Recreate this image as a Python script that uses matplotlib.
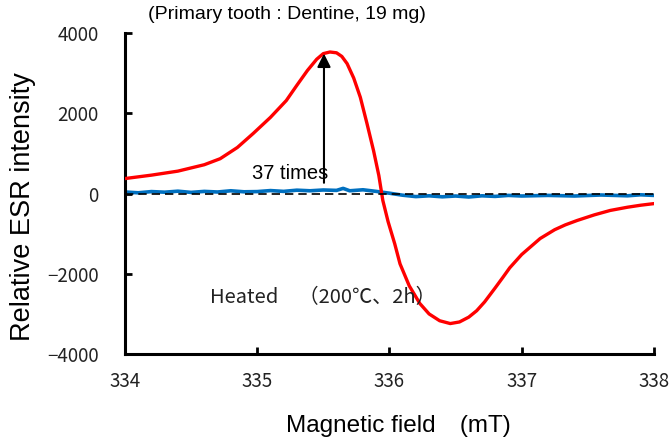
import numpy as np
import matplotlib.pyplot as plt

# ESR spectrum
field_red = [334.0, 334.2, 334.4, 334.6, 334.72, 334.85, 334.97, 335.1, 335.22, 335.3,
             335.38, 335.45, 335.5, 335.55, 335.6, 335.64, 335.68, 335.73, 335.78,
             335.83, 335.88, 335.92, 335.95, 335.99, 336.04, 336.08, 336.15, 336.23,
             336.3, 336.38, 336.46, 336.53, 336.6, 336.66, 336.72, 336.8, 336.86,
             336.91, 337.0, 337.07, 337.14, 337.25, 337.33, 337.42, 337.55, 337.67,
             337.8, 337.9, 338.0]
inten_red = [375, 460, 560, 720, 870, 1150, 1500, 1900, 2320, 2700, 3070, 3350, 3490,
             3530, 3510, 3420, 3240, 2880, 2400, 1750, 1070, 450, -170, -700, -1250,
             -1750, -2300, -2740, -3000, -3170, -3240, -3200, -3080, -2920, -2700,
             -2350, -2080, -1850, -1520, -1320, -1120, -900, -780, -670, -530, -420,
             -340, -290, -250]

field_blue = [334.0, 334.1, 334.2, 334.3, 334.4, 334.5, 334.6, 334.7, 334.8, 334.9,
              335.0, 335.1, 335.2, 335.3, 335.4, 335.5, 335.6, 335.65, 335.7, 335.8,
              335.9, 336.0, 336.1, 336.2, 336.3, 336.4, 336.5, 336.6, 336.7, 336.8,
              336.9, 337.0, 337.2, 337.4, 337.6, 337.8, 337.9, 338.0]
inten_blue = [40, 20, 50, 35, 60, 30, 55, 40, 70, 45, 50, 75, 55, 85, 70, 90, 80, 130,
              70, 95, 55, 10, -40, -75, -55, -80, -60, -85, -55, -70, -45, -60, -45,
              -60, -35, -55, -30, -45]

xticks = [334, 335, 336, 337, 338]
yticks = [-4000, -2000, 0, 2000, 4000]

fig = plt.figure(figsize=(6.72, 4.42), dpi=100)
ax = fig.add_axes([0.186, 0.199, 0.787, 0.726])

ax.plot(field_red, inten_red, color="#FF0000", lw=2.4, zorder=3)
ax.plot(field_blue, inten_blue, color="#0070C0", lw=2.6, zorder=2)
ax.axhline(0, color="black", lw=1.2, ls=(0, (5, 3)), zorder=4)

ax.annotate("", xy=(335.505, 3560), xytext=(335.505, 200),
            arrowprops=dict(arrowstyle="-|>", color="black", lw=1.5,
                            mutation_scale=20), zorder=5)
ax.text(335.25, 500, "37 times", fontsize=14.5, family="Liberation Sans",
        ha="center", va="center", zorder=6)
ax.text(334.64, -2600, "Heated\u3000\uff08200\u2103\u30012h\uff09", fontsize=14.5,
        family=["Noto Sans CJK JP", "DejaVu Sans"], color="#222222",
        ha="left", va="center", zorder=6)
fig.text(0.22, 0.968, "(Primary tooth : Dentine, 19 mg)", fontsize=14,
         family="Liberation Sans", ha="left", va="center")

ax.set_xlim(334, 338)
ax.set_ylim(-4000, 4000)
ax.set_xticks(xticks)
ax.set_yticks(yticks)
ax.set_xticklabels([str(t) for t in xticks], family="Noto Sans CJK JP", fontsize=13.5,
                   color="#222222")
ax.set_yticklabels([str(t) if t >= 0 else "\u2212" + str(-t) for t in yticks],
                   family="Noto Sans CJK JP", fontsize=13.5, color="#222222")
ax.tick_params(direction="in", length=5, width=2)
ax.tick_params(axis="x", pad=12)
ax.tick_params(axis="y", pad=19)

for s in ["top", "right"]:
    ax.spines[s].set_visible(False)
for s in ["left", "bottom"]:
    ax.spines[s].set_linewidth(2.2)

ax.set_xlabel("Magnetic field\u3000(mT)", fontsize=17.5,
              family=["Liberation Sans", "Noto Sans CJK JP"])
ax.xaxis.set_label_coords(0.516, -0.19)
ax.set_ylabel("Relative ESR intensity", fontsize=19.5, family="Liberation Sans")
ax.yaxis.set_label_coords(-0.168, 0.461)

fig.savefig("out.png", dpi=100)
